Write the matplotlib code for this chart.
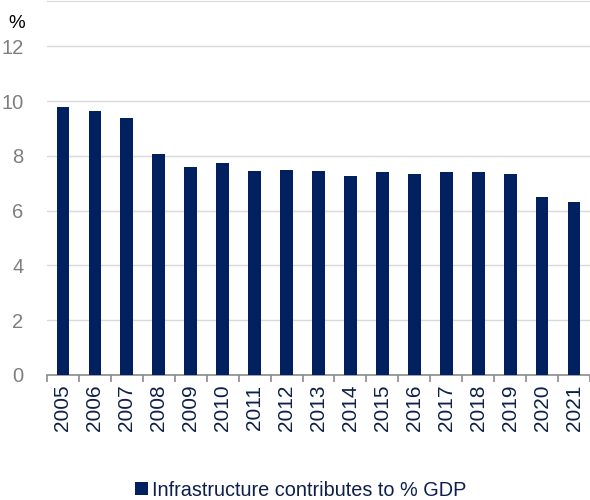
import matplotlib.pyplot as plt
import numpy as np

plt.rcParams['font.family'] = ['Liberation Sans', 'DejaVu Sans']

# datos
years = ['2005', '2006', '2007', '2008', '2009', '2010', '2011', '2012', '2013',
         '2014', '2015', '2016', '2017', '2018', '2019', '2020', '2021']
values = [9.78, 9.64, 9.38, 8.07, 7.59, 7.72, 7.46, 7.49, 7.45,
          7.27, 7.41, 7.34, 7.41, 7.41, 7.34, 6.50, 6.33]
series_name = 'Infrastructure contributes to % GDP'

navy = '#002060'
gray_txt = '#7f7f7f'
grid_col = '#d9d9d9'

fig = plt.figure(figsize=(5.9, 5.0), dpi=100)
ax = fig.add_axes([47 / 590, 0.25, 1 - 47 / 590, 0.748])

x = np.arange(len(years))
ax.bar(x, values, width=0.4, color=navy, label=series_name, zorder=3)

ax.set_xlim(-0.5, len(years) - 0.5)
ax.set_ylim(0, 13.65)
ax.set_yticks([0, 2, 4, 6, 8, 10, 12])
ax.yaxis.grid(True, color=grid_col, linewidth=1)
ax.set_axisbelow(True)

# ejes
for s in ['left', 'right']:
    ax.spines[s].set_visible(False)
ax.spines['top'].set_color(grid_col)
ax.spines['bottom'].set_color('#8c8c8c')
ax.spines['bottom'].set_linewidth(1.2)

ax.tick_params(axis='y', length=0, labelsize=14.5, labelcolor=gray_txt, pad=17)
ax.set_xticks(x)
ax.set_xticklabels(years, rotation=90, fontsize=15, color='#0d1f4a')
ax.tick_params(axis='x', length=0, pad=7)
ax.set_xticks(np.arange(-0.5, len(years), 1), minor=True)
ax.tick_params(axis='x', which='minor', length=5, width=1.2, color='#8c8c8c')

fig.text(8 / 590, 1 - 24 / 500, '%', fontsize=13.5, color='black', va='center')

fig.legend(loc='center', bbox_to_anchor=(0.51, 1 - 490 / 500), frameon=False,
           fontsize=14.3, handlelength=0.65, handleheight=0.65, handletextpad=0.2,
           labelcolor='#0d1f4a')

plt.savefig('out.png', dpi=100)
